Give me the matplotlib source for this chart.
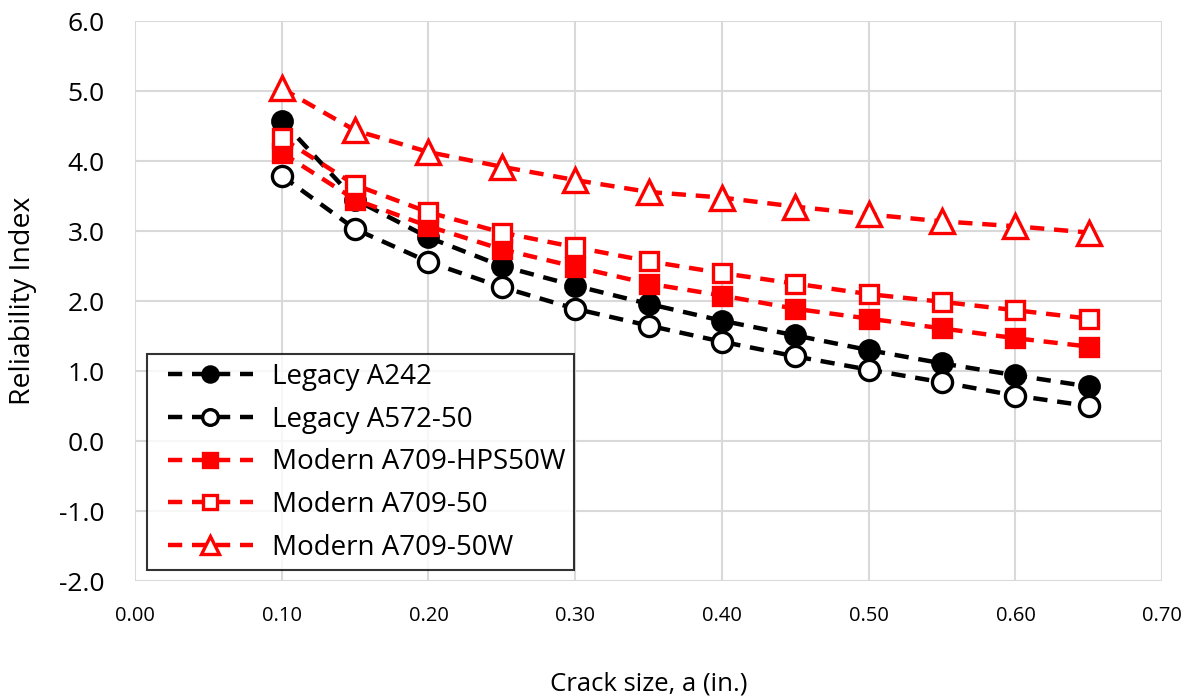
import matplotlib
matplotlib.use("Agg")
import matplotlib.pyplot as plt
import numpy as np
from matplotlib.legend_handler import HandlerLine2D
from matplotlib.lines import Line2D

plt.rcParams['font.family'] = ['Open Sans', 'DejaVu Sans']

crack_size = [0.10, 0.15, 0.20, 0.25, 0.30, 0.35, 0.40, 0.45, 0.50, 0.55, 0.60, 0.65]

legacy_a242 = [4.58, 3.45, 2.91, 2.50, 2.22, 1.96, 1.72, 1.51, 1.30, 1.11, 0.94, 0.78]
legacy_a572_50 = [3.79, 3.03, 2.56, 2.20, 1.89, 1.65, 1.42, 1.21, 1.02, 0.84, 0.65, 0.50]
modern_hps50w = [4.12, 3.45, 3.07, 2.74, 2.49, 2.25, 2.08, 1.89, 1.75, 1.61, 1.47, 1.35]
modern_a709_50 = [4.33, 3.66, 3.27, 2.98, 2.77, 2.57, 2.40, 2.25, 2.10, 1.99, 1.87, 1.75]
modern_a709_50w = [5.04, 4.44, 4.13, 3.92, 3.73, 3.56, 3.48, 3.35, 3.24, 3.14, 3.07, 2.98]

series_names = ["Legacy A242", "Legacy A572-50", "Modern A709-HPS50W",
                "Modern A709-50", "Modern A709-50W"]

x_ticks = [0.00, 0.10, 0.20, 0.30, 0.40, 0.50, 0.60, 0.70]
y_ticks = [-2.0, -1.0, 0.0, 1.0, 2.0, 3.0, 4.0, 5.0, 6.0]


class IndentedLineHandler(HandlerLine2D):
    """Legend line sample with a small indent on its left side."""

    def get_xdata(self, legend, xdescent, ydescent, width, height, fontsize):
        x0 = -xdescent + 0.47 * fontsize
        x1 = -xdescent + width
        return np.array([x0, x1]), np.array([(x0 + x1) / 2])


fig = plt.figure(figsize=(12, 6.98), dpi=100)
ax = fig.add_axes([0.1125, 0.1676, 0.856, 0.802])

dash = (0, (3.2, 2.2))
styles = [
    dict(color='black', marker='o', mfc='black', mec='black', ms=14),
    dict(color='black', marker='o', mfc='white', mec='black', ms=14.5),
    dict(color='#ff0000', marker='s', mfc='#ff0000', mec='#ff0000', ms=12.5),
    dict(color='#ff0000', marker='s', mfc='white', mec='#ff0000', ms=12.5),
    dict(color='#ff0000', marker='^', mfc='white', mec='#ff0000', ms=17),
]
data = [legacy_a242, legacy_a572_50, modern_hps50w, modern_a709_50, modern_a709_50w]

for name, vals, st in zip(series_names, data, styles):
    ax.plot(crack_size, vals, linestyle=dash, linewidth=3.2, mew=2.4,
            label=name, zorder=3, **st)

ax.set_xlim(0, 0.70)
ax.set_ylim(-2.0, 6.0)
ax.set_xticks(x_ticks)
ax.set_yticks(y_ticks)
ax.set_xticklabels([f"{v:.2f}" for v in x_ticks])
ax.set_yticklabels([f"{v:.1f}" for v in y_ticks])
ax.grid(True, color='#d9d9d9', linewidth=1.5)
ax.set_axisbelow(True)
for s in ax.spines.values():
    s.set_visible(False)
ax.tick_params(axis='x', length=0, labelsize=14.5, pad=18)
ax.tick_params(axis='y', length=0, labelsize=19, pad=22)

ax.set_xlabel("Crack size, a (in.)", fontsize=18.5, labelpad=33)
ax.set_ylabel("Reliability Index", fontsize=20.5, labelpad=16)

leg = ax.legend(loc='lower left', bbox_to_anchor=(0.0117, 0.0196),
                borderaxespad=0, fontsize=20,
                frameon=True, fancybox=False, edgecolor='black',
                handlelength=3.5, handletextpad=0.7, labelspacing=0.53,
                borderpad=0.3, markerscale=0.78,
                handler_map={Line2D: IndentedLineHandler()})
leg.get_frame().set_linewidth(1.5)

fig.savefig("out.png", dpi=100)
